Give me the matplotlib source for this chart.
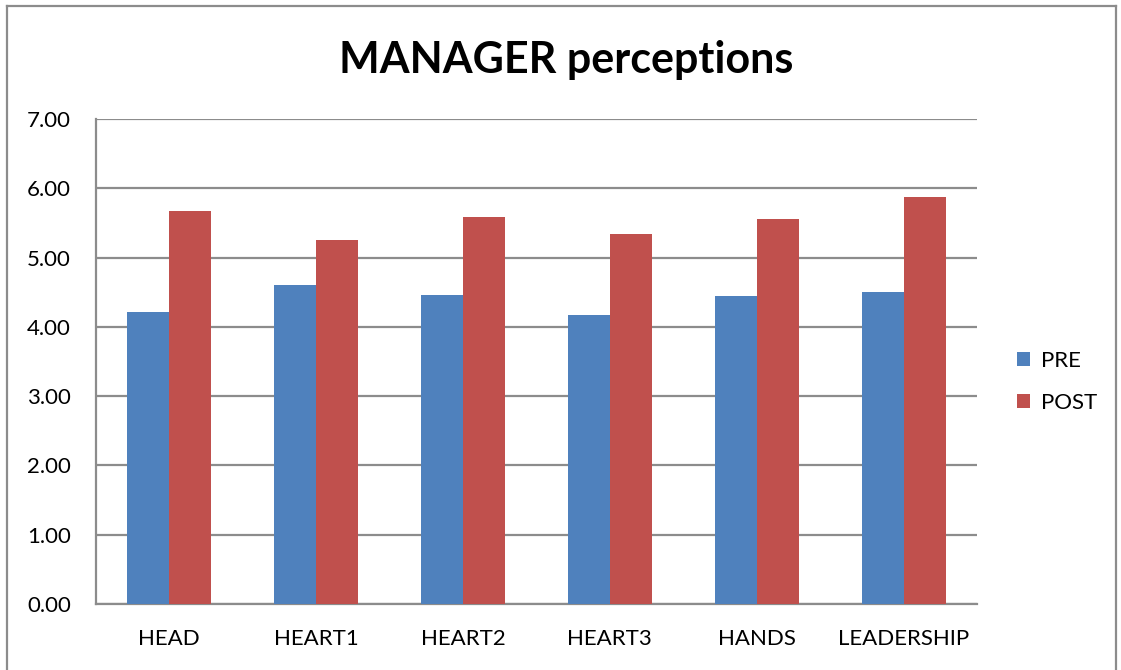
import numpy as np
import matplotlib
matplotlib.use("Agg")
import matplotlib.pyplot as plt
from matplotlib.lines import Line2D

plt.rcParams['font.family'] = ['Lato', 'DejaVu Sans']

# data
categories = ['HEAD', 'HEART1', 'HEART2', 'HEART3', 'HANDS', 'LEADERSHIP']
pre = [4.21, 4.61, 4.46, 4.17, 4.44, 4.51]
post = [5.67, 5.26, 5.59, 5.34, 5.55, 5.87]
yticks = [0, 1, 2, 3, 4, 5, 6, 7]

fig = plt.figure(figsize=(11.21, 6.70), dpi=100)
ax = fig.add_axes([0.0856, 0.0985, 0.7859, 0.7239])

x = np.arange(len(categories))
w = 0.286
ax.bar(x - w / 2, pre, w, color='#4F81BD', label='PRE', zorder=3)
ax.bar(x + w / 2, post, w, color='#C0504D', label='POST', zorder=3)

ax.set_xlim(-0.5, len(categories) - 0.5)
ax.set_ylim(0, 7)
ax.set_yticks(yticks)
ax.set_yticklabels([f'{v:.2f}' for v in yticks], fontsize=16)
ax.set_xticks(x)
ax.set_xticklabels(categories, fontsize=16)
ax.tick_params(axis='both', length=0)
ax.tick_params(axis='y', pad=18)
ax.tick_params(axis='x', pad=18)

ax.grid(axis='y', color='#8c8c8c', linewidth=1.6, zorder=0)
for side in ['top', 'right']:
    ax.spines[side].set_visible(False)
for side in ['left', 'bottom']:
    ax.spines[side].set_color('#8c8c8c')
    ax.spines[side].set_linewidth(1.6)

fig.text(0.505, 0.911, 'MANAGER perceptions', ha='center', va='center',
         fontsize=31, fontweight='bold')

leg = fig.legend(loc='center left', bbox_to_anchor=(0.889, 0.43), frameon=False,
                 fontsize=16, handlelength=0.6, handleheight=0.6,
                 handletextpad=0.5, labelspacing=1.0)

# outer chart border
border = dict(color='#8c8c8c', linewidth=1.6, transform=fig.transFigure)
fig.add_artist(Line2D([7 / 1121, 7 / 1121], [0, 1 - 6 / 670], **border))
fig.add_artist(Line2D([7 / 1121, 1116 / 1121], [1 - 6 / 670, 1 - 6 / 670], **border))
fig.add_artist(Line2D([1116 / 1121, 1116 / 1121], [0, 1 - 6 / 670], **border))

fig.savefig('out.png', dpi=100)
